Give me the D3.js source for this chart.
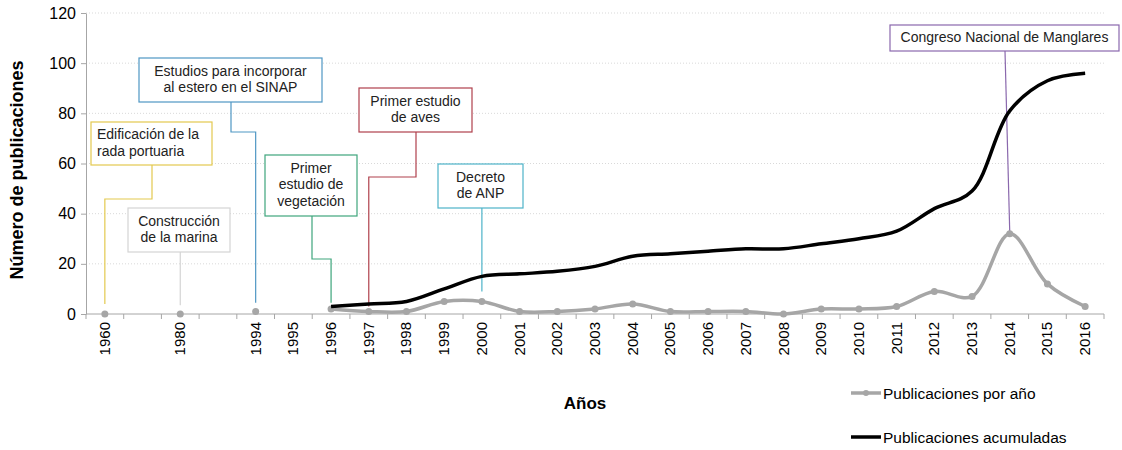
<!DOCTYPE html>
<html>
<head>
<meta charset="utf-8">
<title>Publicaciones</title>
<script src="https://d3js.org/d3.v7.min.js"></script>
<style>
  body { margin: 0; background: #fff; }
  svg { font-family: "Liberation Sans", Arial, sans-serif; }
  .grid line { stroke: #d9d9d9; stroke-dasharray: 1,2; }
  .axis path, .axis line { stroke: #a6a6a6; }
  .tick-label { font-size: 15px; fill: #000; }
  .note { font-size: 14px; fill: #222; }
</style>
</head>
<body>
<script>
// categories on the x axis (blank slots keep the gaps between 1960, 1980 and 1994)
var years = ["1960", "g1", "1980", "g2", "1994", "1995", "1996", "1997", "1998", "1999", "2000",
  "2001", "2002", "2003", "2004", "2005", "2006", "2007", "2008", "2009", "2010",
  "2011", "2012", "2013", "2014", "2015", "2016"];

// isolated early points (no line)
var earlyYears = ["1960", "1980", "1994"];
var earlyPerYear = [0, 0, 1];

// series from 1996 on
var lineYears = ["1996", "1997", "1998", "1999", "2000", "2001", "2002", "2003", "2004", "2005",
  "2006", "2007", "2008", "2009", "2010", "2011", "2012", "2013", "2014", "2015", "2016"];
var perYear = [2, 1, 1, 5, 5, 1, 1, 2, 4, 1, 1, 1, 0, 2, 2, 3, 9, 7, 32, 12, 3];
var cumulative = [3, 4, 5, 10, 15, 16, 17, 19, 23, 24, 25, 26, 26, 28, 30, 33, 42, 49, 81, 93, 96];

var yTicks = [0, 20, 40, 60, 80, 100, 120];

var W = 1122, H = 450;
var svg = d3.select("body").append("svg").attr("width", W).attr("height", H);

var x = d3.scaleBand().domain(years).range([86, 1104]).paddingInner(0).paddingOuter(0);
var y = d3.scaleLinear().domain([0, 120]).range([314, 13]);
function cx(d) { return x(d) + x.bandwidth() / 2; }

// gridlines
svg.append("g").attr("class", "grid")
  .selectAll("line").data(yTicks.slice(1)).enter().append("line")
  .attr("x1", 86).attr("x2", 1104)
  .attr("y1", function (d) { return y(d); }).attr("y2", function (d) { return y(d); });

// y axis
var yAxis = svg.append("g").attr("class", "axis")
  .attr("transform", "translate(86,0)")
  .call(d3.axisLeft(y).tickValues(yTicks).tickSize(5).tickSizeOuter(0));
yAxis.selectAll("text").attr("class", "tick-label").style("font-size", "16px").attr("x", -10);

// x axis: line + ticks at band boundaries
var xAxis = svg.append("g").attr("class", "axis");
xAxis.append("line").attr("x1", 86).attr("x2", 1104).attr("y1", y(0)).attr("y2", y(0));
xAxis.selectAll(".xt").data(years.concat(["end"])).enter().append("line")
  .attr("x1", function (d) { return d === "end" ? 1104 : x(d); })
  .attr("x2", function (d) { return d === "end" ? 1104 : x(d); })
  .attr("y1", y(0)).attr("y2", y(0) + 5);
xAxis.selectAll(".xl").data(years.filter(function (d) { return d[0] !== "g"; })).enter()
  .append("text").attr("class", "tick-label")
  .attr("text-anchor", "end")
  .attr("transform", function (d) { return "translate(" + (cx(d) + 5) + "," + (y(0) + 8) + ") rotate(-90)"; })
  .text(function (d) { return d; });

// annotation callouts
var notes = [
  { lines: ["Edificación de la", "rada portuaria"], color: "#e3c94f", box: [91, 122, 121, 43], anchor: "start",
    path: function () { return [[152, 165], [152, 199], [cx("1960"), 199], [cx("1960"), y(4)]]; } },
  { lines: ["Construcción", "de la marina"], color: "#d4d4d4", box: [128, 208, 102, 44], anchor: "middle",
    path: function () { return [[cx("1980"), 252], [cx("1980"), y(3.5)]]; } },
  { lines: ["Estudios para incorporar", "al estero en el SINAP"], color: "#4f97c4", box: [139, 58, 183, 44], anchor: "middle",
    path: function () { return [[231, 102], [231, 132], [cx("1994"), 132], [cx("1994"), y(4.5)]]; } },
  { lines: ["Primer", "estudio de", "vegetación"], color: "#3ea57c", box: [265, 155, 92, 61], anchor: "middle",
    path: function () { return [[312, 216], [312, 259], [cx("1996"), 259], [cx("1996"), y(4.5)]]; } },
  { lines: ["Primer estudio", "de aves"], color: "#b0404c", box: [359, 88, 113, 44], anchor: "middle",
    path: function () { return [[416, 132], [416, 177], [cx("1997"), 177], [cx("1997"), y(3)]]; } },
  { lines: ["Decreto", "de ANP"], color: "#4db3c9", box: [438, 164, 85, 44], anchor: "middle",
    path: function () { return [[cx("2000"), 208], [cx("2000"), y(9)]]; } },
  { lines: ["Congreso Nacional de Manglares"], color: "#8a68ad", box: [890, 25, 229, 26], anchor: "middle",
    path: function () { return [[1005, 51], [cx("2014"), y(32) - 2]]; } }
];

var line = d3.line().x(function (d) { return d[0]; }).y(function (d) { return d[1]; });
notes.forEach(function (n) {
  var g = svg.append("g");
  g.append("path").attr("d", line(n.path())).attr("fill", "none")
    .attr("stroke", n.color).attr("stroke-width", 1.2);
  var b = n.box;
  g.append("rect").attr("x", b[0]).attr("y", b[1]).attr("width", b[2]).attr("height", b[3])
    .attr("fill", "#fff").attr("stroke", n.color).attr("stroke-width", 1.2);
  var lh = 16.5;
  var top = b[1] + b[3] / 2 - (n.lines.length * lh) / 2 + 12;
  n.lines.forEach(function (t, i) {
    g.append("text").attr("class", "note")
      .attr("x", n.anchor === "start" ? b[0] + 6 : b[0] + b[2] / 2)
      .attr("y", top + i * lh)
      .attr("text-anchor", n.anchor)
      .text(t);
  });
});

// series
var smooth = d3.line().curve(d3.curveCatmullRom.alpha(0.5))
  .x(function (d) { return cx(d.year); }).y(function (d) { return y(d.v); });

var perData = lineYears.map(function (d, i) { return { year: d, v: perYear[i] }; });
var cumData = lineYears.map(function (d, i) { return { year: d, v: cumulative[i] }; });
var earlyData = earlyYears.map(function (d, i) { return { year: d, v: earlyPerYear[i] }; });

svg.append("path").datum(perData).attr("d", smooth).attr("fill", "none")
  .attr("stroke", "#a6a6a6").attr("stroke-width", 3.5);
svg.selectAll(".dot").data(perData.concat(earlyData)).enter().append("circle")
  .attr("cx", function (d) { return cx(d.year); }).attr("cy", function (d) { return y(d.v); })
  .attr("r", 3.5).attr("fill", "#a6a6a6");

svg.append("path").datum(cumData).attr("d", smooth).attr("fill", "none")
  .attr("stroke", "#000").attr("stroke-width", 3.5);

// axis titles
svg.append("text").attr("transform", "translate(23,170) rotate(-90)")
  .attr("text-anchor", "middle").style("font-size", "18px").style("font-weight", "bold")
  .text("Número de publicaciones");
svg.append("text").attr("x", 585).attr("y", 409)
  .attr("text-anchor", "middle").style("font-size", "17px").style("font-weight", "bold")
  .text("Años");

// legend
var legend = [
  { name: "Publicaciones por año", color: "#a6a6a6", dot: true, y: 393 },
  { name: "Publicaciones acumuladas", color: "#000", dot: false, y: 437 }
];
legend.forEach(function (l) {
  svg.append("line").attr("x1", 851).attr("x2", 881).attr("y1", l.y).attr("y2", l.y)
    .attr("stroke", l.color).attr("stroke-width", 3.5);
  if (l.dot) svg.append("circle").attr("cx", 866).attr("cy", l.y).attr("r", 3).attr("fill", l.color);
  svg.append("text").attr("x", 883).attr("y", l.y + 5.5).style("font-size", "15.5px").text(l.name);
});
</script>
</body>
</html>
